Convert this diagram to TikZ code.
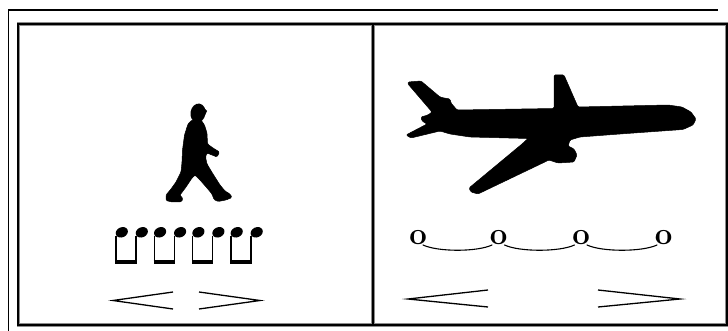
\documentclass[tikz,border=0pt]{standalone}
\usepackage{fontspec}
\usetikzlibrary{calc}
\begin{document}
\begin{tikzpicture}[x=1pt,y=-1pt,
  rulegray/.style={draw=black!45, line width=3.6pt},
  rulecore/.style={draw=black, line width=1.7pt},
  silhouette/.style={fill=black, draw=black, line width=0.5pt, line join=round, rounded corners=1.2pt},
  stem/.style={line width=1.5pt},
  beam/.style={line width=4pt},
  chevron/.style={line width=1.3pt, line join=miter, miter limit=12},
  tieline/.style={line width=1.1pt, line cap=round},
  letter/.style={inner sep=0pt, scale=1.25, font=\Huge\bfseries}
]
\useasboundingbox (0,0) rectangle (728,331);
\fill[white] (0,0) rectangle (728,331);

% thin outer rule
\draw[line width=1.2pt] (8.5,331) -- (8.5,10) -- (718,10);

% two-panel frame
\draw[rulegray] (18.3,24.3) rectangle (727,325);
\draw[rulegray] (373,24.3) -- (373,325);
\draw[rulecore] (18.3,24.3) rectangle (727,325);
\draw[rulecore] (373,24.3) -- (373,325);

% ---------- left panel: walker ----------
\fill[shift={(198,113)}, rotate=-10] (0,0) ellipse [x radius=7.5, y radius=9.5];
\fill (203,107) -- (207,111) -- (204.5,116) -- cycle;
\path[silhouette]
  (192,120) -- (188,124) -- (184.5,135) -- (182.5,150) -- (182,162) -- (181,172)
  -- (176,182) -- (171,189) -- (166,195) -- (166,200.5) -- (172,202) -- (181,202)
  -- (183,199) -- (180,195) -- (186,187) -- (192,178) -- (195,175) -- (200,180)
  -- (207,188) -- (212,194) -- (214,199.5) -- (218,201.5) -- (226,200) -- (232,197.5)
  -- (230,194) -- (225,191) -- (220,185) -- (213,174) -- (207,164) -- (205.5,157)
  -- (207,153) -- (212,155) -- (217,157) -- (219.5,152) -- (213,148) -- (207.5,144)
  -- (207,133) -- (204.5,125) -- (201,120) -- cycle;

% beamed pairs of notes
\foreach \xa in {116,154.3,192.6,230.9} {
  \draw[beam] (\xa-0.8,262) -- (\xa+20.8,262);
  \draw[stem] (\xa,236) -- (\xa,262);
  \draw[stem] (\xa+20,236) -- (\xa+20,262);
  \fill[shift={(\xa+5.8,232.3)}, rotate=25] (0,0) ellipse [x radius=6.3, y radius=5];
  \fill[shift={(\xa+25.8,232.3)}, rotate=25] (0,0) ellipse [x radius=6.3, y radius=5];
}

% short opening and closing wedges
\draw[chevron] (173,292) -- (113,300.5) -- (173,309);
\draw[chevron] (199,292) -- (260,300.5) -- (199,309);

% ---------- right panel: airliner ----------
\path[silhouette]
  (408,82) -- (421,81) -- (440,97) -- (444,98) -- (450,99) -- (451,103)
  -- (457,110) -- (554,108.5) -- (554,75) -- (564,75) -- (578,107)
  -- (668,105) -- (682,107) -- (691,112) -- (696,119) -- (693,125)
  -- (683,129.5) -- (620,134) -- (580,137) -- (570,140) -- (568,146)
  -- (574,149) -- (577,155) -- (574,162) -- (558,163) -- (549,160)
  -- (478,194) -- (471,192) -- (469,188) -- (522,144) -- (528,138.5)
  -- (470,137) -- (450,134) -- (440,131) -- (411,138) -- (406,135)
  -- (427,124) -- (422,121) -- (421,117) -- (428,115) -- (432,112)
  -- (408,84) -- cycle;

% slow pulse: four beats joined by ties
\node[letter] (o1) at (418,238) {o};
\node[letter] (o2) at (498.5,238) {o};
\node[letter] (o3) at (581,238) {o};
\node[letter] (o4) at (663.5,238) {o};
\draw[tieline] ($(o1.center)+(5,7)$) .. controls +(15,7) and +(-15,7) .. ($(o2.center)+(-6.5,7)$);
\draw[tieline] ($(o2.center)+(6,7)$) .. controls +(15,7) and +(-15,7) .. ($(o3.center)+(-6.5,7)$);
\draw[tieline] ($(o3.center)+(6,7)$) .. controls +(15,7) and +(-15,7) .. ($(o4.center)+(-6.5,7)$);

% long opening and closing wedges
\draw[chevron] (488,290) -- (408,299) -- (488,307);
\draw[chevron] (598,290) -- (680,299) -- (598,307);
\end{tikzpicture}
\end{document}
